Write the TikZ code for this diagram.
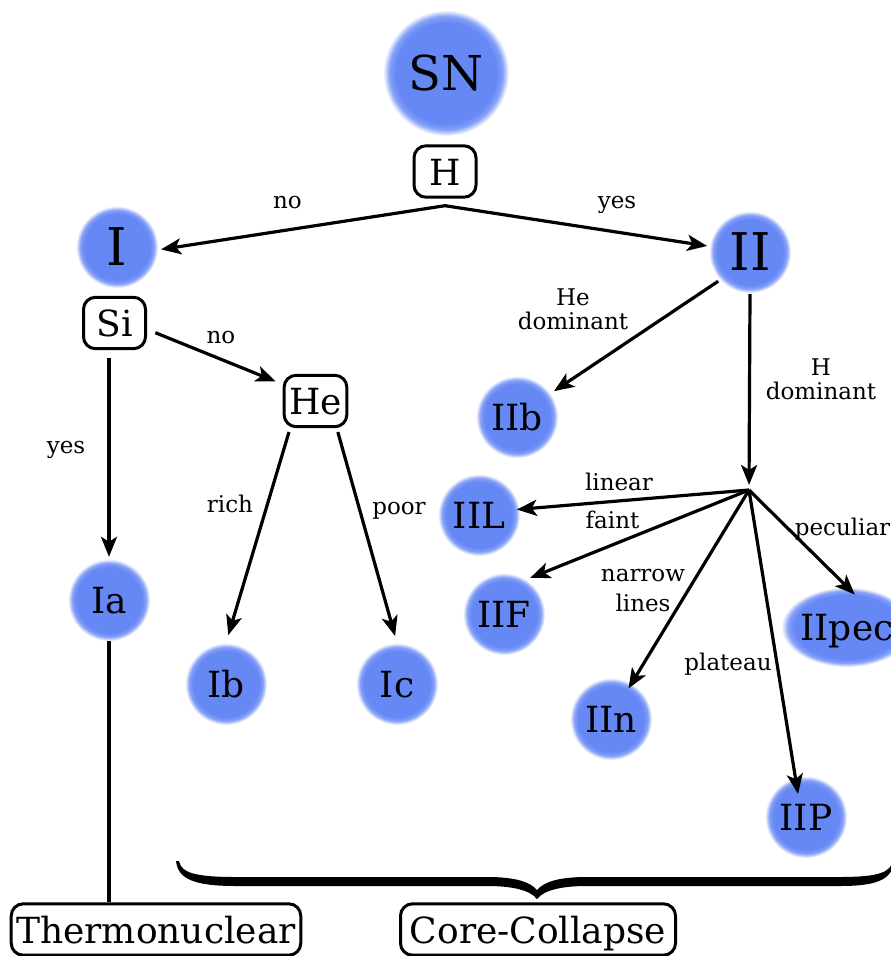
\documentclass[tikz,border=0pt]{standalone}
\usepackage{fontspec}
\setmainfont{DejaVu Serif}
\usetikzlibrary{arrows.meta,shapes.geometric,calc}

\definecolor{glowblue}{RGB}{102,136,245}
% soft-edged disc: flat blue core fading to white at the rim
\pgfdeclareradialshading{glow}{\pgfpointorigin}{color(0bp)=(glowblue); color(20bp)=(glowblue); color(22.5bp)=(glowblue!80!white); color(25bp)=(white); color(50bp)=(white)}

\begin{document}
\begin{tikzpicture}[x=1pt,y=-1pt,
  blob/.style={circle, inner sep=0pt, minimum size=82pt, shade, shading=glow,
    font=\fontsize{36}{40}\selectfont, text height=26.2pt, text depth=0pt},
  bigblob/.style={blob, font=\fontsize{52}{60}\selectfont, text height=37.9pt},
  testbox/.style={draw, rounded corners=12pt, line width=3pt, inner xsep=5pt,
    inner ysep=12pt, minimum width=62pt, font=\fontsize{36}{40}\selectfont,
    text height=27.4pt, text depth=0pt},
  lbl/.style={font=\fontsize{23}{24}\selectfont, inner sep=0pt, align=center},
  arr/.style={line width=3.2pt, -{Stealth[length=20pt,width=16pt,inset=5pt]}},
  link/.style={line width=3.2pt}
]
\useasboundingbox (0,0) rectangle (891,956);

% ---- classes (glowing discs) ----
\node[blob, minimum size=126pt, font=\fontsize{48}{56}\selectfont, text height=35pt] (SN) at (446,73) {SN};
\node[bigblob] (I) at (117,247) {I};
\node[bigblob] (II) at (750,252) {II};
\node[blob] (Ia) at (109,600) {Ia};
\node[blob] (Ib) at (226,684) {Ib};
\node[blob] (Ic) at (397,684) {Ic};
\node[blob] (IIb) at (517,417) {IIb};
\node[blob] (IIL) at (479,515) {IIL};
\node[blob] (IIF) at (504,614) {IIF};
\node[blob] (IIn) at (611,719) {IIn};
\node[blob] (IIP) at (806,817) {IIP};
\node[blob, ellipse, minimum width=118pt, minimum height=80pt] (IIpec) at (847,627) {IIpec};

% ---- spectral tests ----
\node[testbox] (H) at (445,171.5) {H};
\node[testbox] (Si) at (114.5,323) {Si};
\node[testbox] (He) at (315.5,401) {He};
\node[testbox, minimum width=285pt] (TN) at (156,929.5) {Thermonuclear};
\node[testbox, minimum width=275pt] (CC) at (538,929.5) {Core-Collapse};

\coordinate (hj) at ([yshift=-7pt]H.south);
\coordinate (hub) at (749,490);

% ---- branches ----
\draw[arr, shorten >=3pt] (hj) -- (I.-4);
\draw[arr, shorten >=2pt] (hj) -- (II.172);
\draw[arr, shorten <=9pt, shorten >=7.5pt] (Si.-11) -- (He.153);
\draw[arr, shorten <=8pt, shorten >=2pt] (Si.south -| Ia.north) -- (Ia.north);
\draw[arr, shorten <=4pt, shorten >=8pt] (He.-133) -- (Ib.north);
\draw[arr, shorten <=4pt, shorten >=7pt] (He.-52) -- (Ic.north);
\draw[link] (Ia.south) -- (TN.north -| Ia.south);
\draw[arr, shorten <=2pt, shorten >=4pt] (II.223) -- (IIb.35);
\draw[arr, shorten <=1pt, shorten >=5pt] (II.south) -- (hub);
\draw[arr, shorten >=-3pt] (hub) -- (IIL.8);
\draw[arr, shorten >=4pt] (hub) -- (IIF.57);
\draw[arr, shorten >=-6pt] (hub) -- (IIn.60);
\draw[arr, shorten >=-17pt] (hub) -- (IIP.105);
\draw[arr, shorten >=-11pt] (hub) -- (IIpec.north);

% ---- branch labels ----
\node[lbl, anchor=base] at (287.5,208) {no};
\node[lbl, anchor=base] at (617,208) {yes};
\node[lbl, anchor=base] at (221,343) {no};
\node[lbl, anchor=base] at (66,453) {yes};
\node[lbl, anchor=base] at (230,512) {rich};
\node[lbl, anchor=base] at (399,514) {poor};
\node[lbl] at (573,309) {He\\dominant};
\node[lbl] at (821,379) {H\\dominant};
\node[lbl, anchor=base] at (619,490) {linear};
\node[lbl, anchor=base] at (612.5,528) {faint};
\node[lbl, font=\fontsize{23}{30}\selectfont] at (643,591) {narrow\\lines};
\node[lbl, anchor=base] at (728,670) {plateau};
\node[lbl, anchor=base] at (842.5,535) {peculiar};

% ---- curly brace over the core-collapse classes ----
\fill (179,861) .. controls (181,873) and (196,877) .. (236,877) -- (487,877)
  .. controls (516,877) and (530,882) .. (537,890)
  .. controls (544,882) and (558,877) .. (587,877) -- (840,877)
  .. controls (880,877) and (890,872) .. (893,861) -- (894,863)
  .. controls (891,880) and (876,886) .. (840,886) -- (587,886)
  .. controls (562,886) and (544,890) .. (537,899)
  .. controls (530,890) and (512,886) .. (487,886) -- (236,886)
  .. controls (194,886) and (178,879) .. (176,861) -- cycle;
\end{tikzpicture}
\end{document}
